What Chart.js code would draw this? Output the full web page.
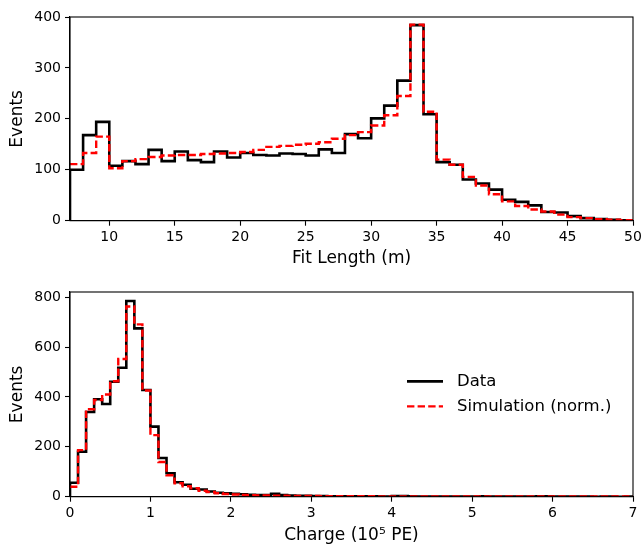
<!DOCTYPE html>
<html><head><meta charset="utf-8">
<script src="https://cdn.jsdelivr.net/npm/chart.js@4/dist/chart.umd.min.js"></script>
<style>
html,body{margin:0;padding:0;background:#fff;}
#wrap{position:relative;width:642px;height:544px;}
.c{position:absolute;left:0;width:642px;height:272px;}
</style></head><body>
<div id="wrap">
<div class="c" style="top:0"><canvas id="topChart"></canvas></div>
<div class="c" style="top:272px"><canvas id="botChart"></canvas></div>
</div>
<script>
// ---- Fit length histogram (1 m bins from 7 to 50 m) ----
const lengthBinStart = 7;
const lengthBinWidth = 1;
const lengthData = [100,168,194,108,117,111,139,117,136,119,115,136,124,133,129,128,132,131,128,140,133,170,162,201,226,275,384,209,115,110,81,73,61,41,37,30,17,16,9,5,3,2,1];
const lengthSim  = [111,133,165,103,117,121,125,128,129,129,131,132,133,135,139,145,147,149,151,154,161,168,174,187,207,245,385,214,120,110,86,69,52,38,29,22,18,12,7,5,3,2,1];
const lengthTicksX = [10,15,20,25,30,35,40,45,50];
const lengthTicksY = [0,100,200,300,400];

// ---- Charge histogram (0.1 x 10^5 PE bins from 0 to 7) ----
const chargeBinStart = 0;
const chargeBinWidth = 0.1;
const chargeData = [56,180,340,391,372,461,517,785,675,428,281,155,94,58,48,32,29,21,16,14,12,10,8,7,7,12,7,5,4,4,
  3,3,2,2,2,2,2,1,2,1,3,3,2,1,1,1,1,1,1,1,1,2,1,1,1,1,1,1,2,2,1,1,1,1,1,0,1,1,0,1];
const chargeSim  = [40,187,351,388,410,463,552,763,691,426,247,139,86,54,42,34,24,19,14,11,9,7,6,5,5,4,4,3,3,3,
  3,2,2,2,2,2,2,2,1,1,1,1,1,1,1,1,1,1,1,1,1,1,1,1,1,1,1,1,1,1,1,1,1,1,1,1,1,1,1,1];
const chargeTicksX = [0,1,2,3,4,5,6,7];
const chargeTicksY = [0,200,400,600,800];

const seriesLabels = ['Data', 'Simulation (norm.)'];

function stepPoints(start, width, values, closed) {
  const pts = [];
  if (closed) pts.push({x: start, y: 0});
  values.forEach((v, i) => pts.push({x: +(start + i * width).toFixed(4), y: v}));
  const end = +(start + values.length * width).toFixed(4);
  pts.push({x: end, y: values[values.length - 1]});
  if (closed) pts.push({x: end, y: 0});
  return pts;
}

const FONT = 'DejaVu Sans';

const framePlugin = {
  id: 'frame',
  afterDatasetsDraw(chart) {
    const {ctx, chartArea: a} = chart;
    ctx.save();
    ctx.strokeStyle = '#000';
    ctx.lineWidth = 1.1;
    ctx.strokeRect(a.left, a.top, a.right - a.left, a.bottom - a.top);
    ctx.restore();
  }
};

const legendPlugin = {
  id: 'stepLegend',
  afterDatasetsDraw(chart, args, opts) {
    if (!opts || !opts.show) return;
    const {ctx, chartArea: a} = chart;
    const cy = (a.top + a.bottom) / 2;
    const rows = chart.data.datasets;
    ctx.save();
    ctx.font = '16.5px "' + FONT + '"';
    ctx.textBaseline = 'middle';
    ctx.fillStyle = '#000';
    rows.forEach((ds, i) => {
      const y = cy - 13 + i * 25;
      const x0 = a.right - 226, x1 = a.right - 190;
      ctx.beginPath();
      ctx.strokeStyle = ds.borderColor;
      ctx.lineWidth = ds.borderWidth;
      ctx.setLineDash(ds.borderDash || []);
      ctx.moveTo(x0, y);
      ctx.lineTo(x1, y);
      ctx.stroke();
      ctx.setLineDash([]);
      ctx.fillText(ds.label, a.right - 176, y);
    });
    ctx.restore();
  }
};

function makeChart(id, cfg) {
  return new Chart(document.getElementById(id), {
    type: 'line',
    data: {
      datasets: [
        {label: seriesLabels[0], data: stepPoints(cfg.start, cfg.width, cfg.data, true),
         stepped: true, borderColor: '#000000', borderWidth: 2.6, pointRadius: 0, fill: false, order: 2},
        {label: seriesLabels[1], data: stepPoints(cfg.start, cfg.width, cfg.sim, false),
         stepped: true, borderColor: '#ff0000', borderWidth: 2.4, borderDash: [7.4, 3.2], pointRadius: 0, fill: false, order: 1}
      ]
    },
    options: {
      animation: false,
      responsive: true,
      maintainAspectRatio: false,
      layout: {padding: {top: cfg.padTop, right: 9, left: 0, bottom: 0}},
      plugins: {legend: {display: false}, tooltip: {enabled: false}, stepLegend: {show: cfg.legend}},
      scales: {
        x: {
          type: 'linear', min: cfg.xmin, max: cfg.xmax,
          afterBuildTicks: s => { s.ticks = cfg.ticksX.map(v => ({value: v})); },
          afterFit: s => { s.height = cfg.xHeight; s.paddingLeft = 0; s.paddingRight = 0; },
          grid: {drawOnChartArea: false, drawTicks: true, tickLength: 5, tickColor: '#000', tickWidth: 1.1},
          border: {display: true, color: '#000', width: 1.1},
          ticks: {color: '#000', font: {family: FONT, size: 14}, padding: 3, maxRotation: 0, autoSkip: false},
          title: {display: true, text: cfg.xTitle, color: '#000', font: {family: FONT, size: 17}, padding: {top: 0, bottom: cfg.xTitlePad}}
        },
        y: {
          type: 'linear', min: 0, max: cfg.ymax,
          afterBuildTicks: s => { s.ticks = cfg.ticksY.map(v => ({value: v})); },
          afterFit: s => { s.width = 70; s.paddingTop = 0; s.paddingBottom = 0; },
          grid: {drawOnChartArea: false, drawTicks: true, tickLength: 5, tickColor: '#000', tickWidth: 1.1},
          border: {display: true, color: '#000', width: 1.1},
          ticks: {color: '#000', font: {family: FONT, size: 14}, padding: 4, autoSkip: false},
          title: {display: true, text: 'Events', color: '#000', font: {family: FONT, size: 17}, padding: {top: 7, bottom: 0}}
        }
      }
    },
    plugins: [framePlugin, legendPlugin]
  });
}

makeChart('topChart', {
  start: lengthBinStart, width: lengthBinWidth, data: lengthData, sim: lengthSim,
  xmin: 7, xmax: 50, ymax: 400, ticksX: lengthTicksX, ticksY: lengthTicksY,
  padTop: 17, xHeight: 51.3, xTitle: 'Fit Length (m)', xTitlePad: 3, legend: false
});
makeChart('botChart', {
  start: chargeBinStart, width: chargeBinWidth, data: chargeData, sim: chargeSim,
  xmin: 0, xmax: 7, ymax: 821, ticksX: chargeTicksX, ticksY: chargeTicksY,
  padTop: 20, xHeight: 47.3, xTitle: 'Charge (10⁵ PE)', xTitlePad: -2, legend: true
});
</script>
</body></html>
